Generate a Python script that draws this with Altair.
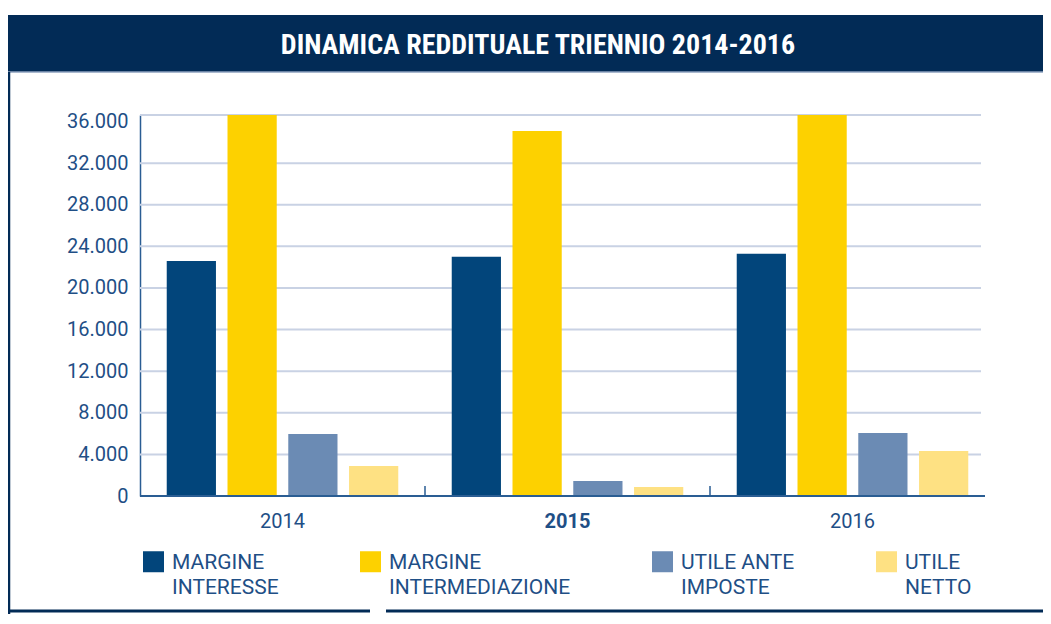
import altair as alt
import pandas as pd

# ---- data ----
years = ["2014", "2015", "2016"]
series = ["MARGINE|INTERESSE", "MARGINE|INTERMEDIAZIONE", "UTILE ANTE|IMPOSTE", "UTILE|NETTO"]
margine_interesse = [22600, 23000, 23300]
margine_intermediazione = [36650, 35100, 36650]   # 2014 and 2016 run past the top of the plot
utile_ante_imposte = [5960, 1440, 6060]
utile_netto = [2880, 870, 4330]
y_ticks = [0, 4000, 8000, 12000, 16000, 20000, 24000, 28000, 32000, 36000]
grid_values = [4000, 8000, 12000, 16000, 20000, 24000, 28000, 32000]
title_text = "DINAMICA REDDITUALE TRIENNIO 2014-2016"

colors = ["#02457b", "#fdd100", "#6b8bb4", "#fee183"]
navy = "#022b56"
text_blue = "#1f4f86"
axis_blue = "#2a5d93"
grid_color = "#c9d2e4"

rows = []
for s, vals in zip(series, [margine_interesse, margine_intermediazione, utile_ante_imposte, utile_netto]):
    for y, v in zip(years, vals):
        rows.append({"anno": y, "serie": s, "valore": v})
df = pd.DataFrame(rows)

W, H = 855, 381
yscale = alt.Scale(domain=[0, 36630], nice=False, zero=True)
xscale = alt.Scale(domain=years, paddingInner=0, paddingOuter=0)
one = alt.Data(values=[{}])

x_axis = alt.Axis(title=None, domain=False, ticks=False, grid=False, labelAngle=0, labelPadding=15,
                  labelFont="Roboto", labelFontSize=20, labelColor=text_blue,
                  labelFontWeight=alt.condition("datum.value == '2015'", alt.value("bold"), alt.value("normal")))
y_axis = alt.Axis(title=None, values=y_ticks, grid=False, ticks=False, domain=True,
                  domainColor=axis_blue, domainWidth=1.5, labelPadding=12,
                  labelFont="Roboto", labelFontSize=20, labelColor=text_blue,
                  labelExpr="replace(format(datum.value, ','), ',', '.')")

banner = alt.Chart(one).mark_rect(color=navy).encode(
    x=alt.value(-132), x2=alt.value(903), y=alt.value(-100), y2=alt.value(-43))
banner_line = alt.Chart(one).mark_rule(color="#8ea2bf", strokeWidth=1.5).encode(
    x=alt.value(-132), x2=alt.value(903), y=alt.value(-43))
left_frame = alt.Chart(one).mark_rule(color=navy, strokeWidth=2.5).encode(
    x=alt.value(-131), y=alt.value(-43), y2=alt.value(499))
bottom_a = alt.Chart(one).mark_rule(color=navy, strokeWidth=3).encode(
    x=alt.value(-132), x2=alt.value(230), y=alt.value(496))
bottom_b = alt.Chart(one).mark_rule(color=navy, strokeWidth=3).encode(
    x=alt.value(246), x2=alt.value(903), y=alt.value(496))
title = alt.Chart(one).mark_text(
    text=title_text, color="white", font="Roboto Condensed, Roboto, sans-serif",
    fontSize=28, fontWeight="bold", align="center", baseline="middle"
).encode(x=alt.value(398), y=alt.value(-69))

grid = alt.Chart(pd.DataFrame({"v": grid_values})).mark_rule(color=grid_color, strokeWidth=2).encode(
    y=alt.Y("v:Q", scale=yscale, axis=y_axis), x=alt.value(0), x2=alt.value(841))
grid_top = alt.Chart(one).mark_rule(color=grid_color, strokeWidth=2).encode(
    y=alt.value(0), x=alt.value(0), x2=alt.value(841))

bars = alt.Chart(df).mark_bar(clip=True).encode(
    x=alt.X("anno:N", scale=xscale, sort=years, axis=x_axis),
    xOffset=alt.XOffset("serie:N", sort=series, scale=alt.Scale(paddingInner=0.19, paddingOuter=0.44)),
    y=alt.Y("valore:Q", scale=yscale, axis=y_axis),
    color=alt.Color("serie:N", sort=series, scale=alt.Scale(domain=series, range=colors),
                    legend=alt.Legend(orient="none", legendX=3, legendY=443, direction="horizontal",
                                      columns=4, columnPadding=81, title=None,
                                      symbolType="M-1,-1.667H1V0.333H-1Z",
                                      symbolSize=441, symbolStrokeWidth=0, symbolOpacity=1,
                                      labelFont="Roboto", labelFontSize=21, labelColor=text_blue,
                                      labelLimit=300, labelOffset=8, labelBaseline="alphabetic",
                                      labelExpr="split(datum.label, '|')", padding=0)),
)

baseline = alt.Chart(one).mark_rule(color=axis_blue, strokeWidth=2).encode(
    y=alt.datum(0, scale=yscale, axis=y_axis), x=alt.value(0), x2=alt.value(845))

seps = alt.Chart(pd.DataFrame({"anno": years[1:]})).mark_rule(color=axis_blue, strokeWidth=1.5).encode(
    x=alt.X("anno:N", scale=xscale, sort=years, bandPosition=0, axis=x_axis),
    y=alt.value(H - 10), y2=alt.value(H))

chart = alt.layer(
    banner, banner_line, left_frame, bottom_a, bottom_b, title, grid, grid_top, bars, baseline, seps
).properties(
    width=W, height=H,
    padding={"left": 132, "top": 107, "right": 48, "bottom": 118},
    autosize=alt.AutoSizeParams(type="none"),
    background="white",
).configure(
    style={"guide-label": {"lineHeight": 25}}
).configure_view(stroke=None)

chart.save("out.html", embed_options={"renderer": "svg", "actions": False})
